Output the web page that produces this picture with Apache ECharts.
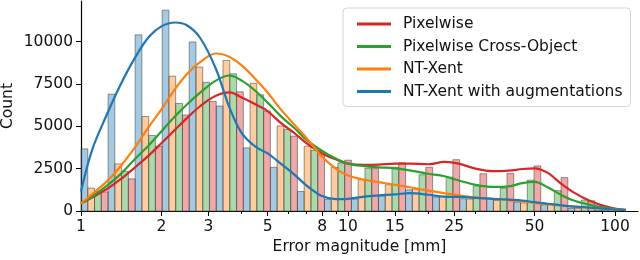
<!DOCTYPE html>
<html><head><meta charset="utf-8">
<script src="https://cdn.jsdelivr.net/npm/echarts@6/dist/echarts.min.js"></script>
<style>html,body{margin:0;padding:0;background:#fff}#c{width:640px;height:260px}</style>
</head><body><div id="c"></div>
<script>
// ---- data ----
const seriesNames = ['Pixelwise', 'Pixelwise Cross-Object', 'NT-Xent', 'NT-Xent with augmentations'];
// histogram bin edges (log-spaced, mm)
const binEdges = [1, 1.263, 1.595, 2.014, 2.543, 3.211, 4.055, 5.121, 6.466, 8.166, 10.30,
  13.01, 16.43, 20.75, 26.20, 33.08, 41.78, 52.75, 66.62, 84.12, 106.2];
// counts per bin
const countsAug = [3670, 6900, 10400, 11860, 9980, 6200, 3730, 2580, 1150, 700, 700, 890, 1250, 830, 720, 720, 530, 360, 150, 50];
const countsNTX = [1350, 2780, 5580, 7960, 8500, 8890, 7540, 5020, 3830, 2580, 1850, 1550, 1300, 850, 700, 620, 480, 380, 150, 50];
const countsPCO = [1170, 2340, 4460, 6350, 7600, 8100, 6860, 4820, 3570, 2840, 2520, 2580, 2140, 2000, 1490, 1340, 1820, 1200, 650, 100];
const countsPix = [1130, 1900, 3830, 5670, 6470, 7040, 5900, 4420, 3530, 3000, 2500, 2840, 2580, 3030, 2200, 2220, 2660, 1970, 600, 120];
// density curves (scaled to counts), sampled at kdeX
const kdeX = [1, 1.1, 1.25, 1.4, 1.6, 1.8, 2, 2.25, 2.5, 2.8, 3.2, 3.6, 4, 4.5, 5, 5.6, 6.3, 7, 8, 9, 10,
  11.5, 13, 15, 17, 20, 23, 26, 30, 35, 40, 45, 50, 56, 63, 70, 80, 90, 100, 110];
const kdeAug = [1150, 3600, 5700, 7400, 9100, 10300, 10900, 11130, 10950, 10200, 8400, 6100, 4600, 3800, 3400, 2800, 2150, 1500, 880, 700, 720,
  850, 920, 980, 1060, 960, 850, 830, 780, 720, 670, 620, 520, 430, 330, 260, 200, 140, 90, 50];
const kdeNTX = [450, 1000, 1750, 2600, 3800, 5000, 6000, 7200, 8100, 8800, 9300, 9100, 8600, 7800, 7000, 6000, 5100, 4300, 3200, 2500, 2100,
  1850, 1700, 1550, 1400, 1200, 1050, 920, 800, 720, 640, 560, 480, 400, 320, 270, 200, 140, 90, 50];
const kdePCO = [450, 850, 1500, 2150, 3100, 3900, 4700, 5600, 6300, 7000, 7700, 8000, 7700, 7100, 6400, 5600, 4900, 4200, 3550, 3100, 2800,
  2650, 2580, 2520, 2400, 2200, 2050, 1800, 1550, 1420, 1450, 1650, 1720, 1400, 950, 620, 380, 220, 120, 60];
const kdePix = [450, 800, 1300, 1850, 2600, 3300, 4000, 4800, 5500, 6200, 6800, 7000, 6700, 6300, 5900, 5200, 4600, 4000, 3400, 3050, 2800,
  2720, 2740, 2800, 2800, 2760, 2900, 2800, 2500, 2350, 2380, 2480, 2520, 2250, 1600, 1100, 620, 320, 150, 70];
const xMajorTicks = [1, 2, 3, 5, 8, 10, 15, 25, 50, 100];
const xMinorTicks = [4, 6, 7, 9, 20, 30, 40, 60, 70, 80, 90];
const yTicks = [0, 2500, 5000, 7500, 10000];

// ---- chart ----
const lineColors = ['#d62728', '#2ca02c', '#ff7f0e', '#1f77b4'];
const barFill = {
  'NT-Xent with augmentations': 'rgba(31,119,180,0.4)',
  'NT-Xent': 'rgba(255,127,14,0.4)',
  'Pixelwise Cross-Object': 'rgba(44,160,44,0.4)',
  'Pixelwise': 'rgba(214,39,40,0.4)'
};
const barOrder = [
  ['NT-Xent with augmentations', countsAug],
  ['NT-Xent', countsNTX],
  ['Pixelwise Cross-Object', countsPCO],
  ['Pixelwise', countsPix]
];
const kdeMap = {
  'Pixelwise': kdePix,
  'Pixelwise Cross-Object': kdePCO,
  'NT-Xent': kdeNTX,
  'NT-Xent with augmentations': kdeAug
};
const FONT = 'DejaVu Sans';
const series = [];
barOrder.forEach(([name, counts], k) => {
  series.push({
    type: 'custom',
    name: 'hist-' + name,
    xAxisIndex: 0, yAxisIndex: 0,
    z: 1,
    silent: true,
    encode: { x: [0, 1], y: 2 },
    data: counts.map((c, i) => [binEdges[i], binEdges[i + 1], c]),
    renderItem: function (params, api) {
      const a = api.coord([api.value(0), 0]);
      const b = api.coord([api.value(1), api.value(2)]);
      const w = (b[0] - a[0]) / 4;
      const x = a[0] + k * w;
      return {
        type: 'rect',
        shape: { x: x, y: b[1], width: w, height: a[1] - b[1] },
        style: { fill: barFill[name], stroke: 'rgba(70,70,70,0.55)', lineWidth: 1 }
      };
    }
  });
});
seriesNames.forEach((name, i) => {
  series.push({
    type: 'line', name: name, xAxisIndex: 0, yAxisIndex: 0,
    smooth: 0.35, showSymbol: false, symbol: 'none', z: 3 + i,
    lineStyle: { color: lineColors[i], width: 2.2 },
    itemStyle: { color: lineColors[i] },
    data: kdeX.map((x, j) => [x, kdeMap[name][j]])
  });
});

const chart = echarts.init(document.getElementById('c'), null, { renderer: 'canvas' });
chart.setOption({
  animation: false,
  backgroundColor: '#fff',
  textStyle: { fontFamily: FONT },
  grid: { left: 81, right: 2, top: 1, bottom: 49, containLabel: false, outerBoundsMode: 'none' },
  legend: {
    data: seriesNames,
    orient: 'vertical', left: 343, top: 8,
    icon: 'rect', itemWidth: 34, itemHeight: 3, itemGap: 6.5,
    padding: [8, 8, 7, 14],
    borderColor: '#d5d5d5', borderWidth: 1, borderRadius: 4,
    backgroundColor: 'rgba(255,255,255,0.8)',
    textStyle: { fontFamily: FONT, fontSize: 15.5, color: '#111', padding: [0, 0, 0, 7] }
  },
  xAxis: [{
    type: 'log', logBase: 10, min: 1, max: 122,
    name: 'Error magnitude [mm]', nameLocation: 'middle', nameGap: 28, nameMoveOverlap: false,
    nameTextStyle: { fontFamily: FONT, fontSize: 15.5, color: '#111' },
    axisLine: { lineStyle: { color: '#000', width: 1.2 } },
    axisTick: { show: true, length: 5, customValues: xMajorTicks, lineStyle: { color: '#000' } },
    axisLabel: { customValues: xMajorTicks, fontFamily: FONT, fontSize: 15.5, color: '#111', margin: 8,
      formatter: v => String(v) },
    splitLine: { show: false }, minorTick: { show: false }
  }, {
    type: 'log', logBase: 10, min: 1, max: 122, gridIndex: 0, position: 'bottom',
    axisLine: { show: false },
    axisTick: { show: true, length: 3, customValues: xMinorTicks, lineStyle: { color: '#000' } },
    axisLabel: { show: false }, splitLine: { show: false }
  }],
  yAxis: {
    type: 'value', min: 0, max: 12400,
    name: 'Count', nameLocation: 'middle', nameGap: 65, nameMoveOverlap: false,
    nameTextStyle: { fontFamily: FONT, fontSize: 15.5, color: '#111' },
    axisLine: { show: true, lineStyle: { color: '#000', width: 1.2 } },
    axisTick: { show: true, length: 5, customValues: yTicks, lineStyle: { color: '#000' } },
    axisLabel: { customValues: yTicks, fontFamily: FONT, fontSize: 15.5, color: '#111', margin: 8,
      formatter: v => String(v) },
    splitLine: { show: false }
  },
  series: series
});
</script></body></html>
